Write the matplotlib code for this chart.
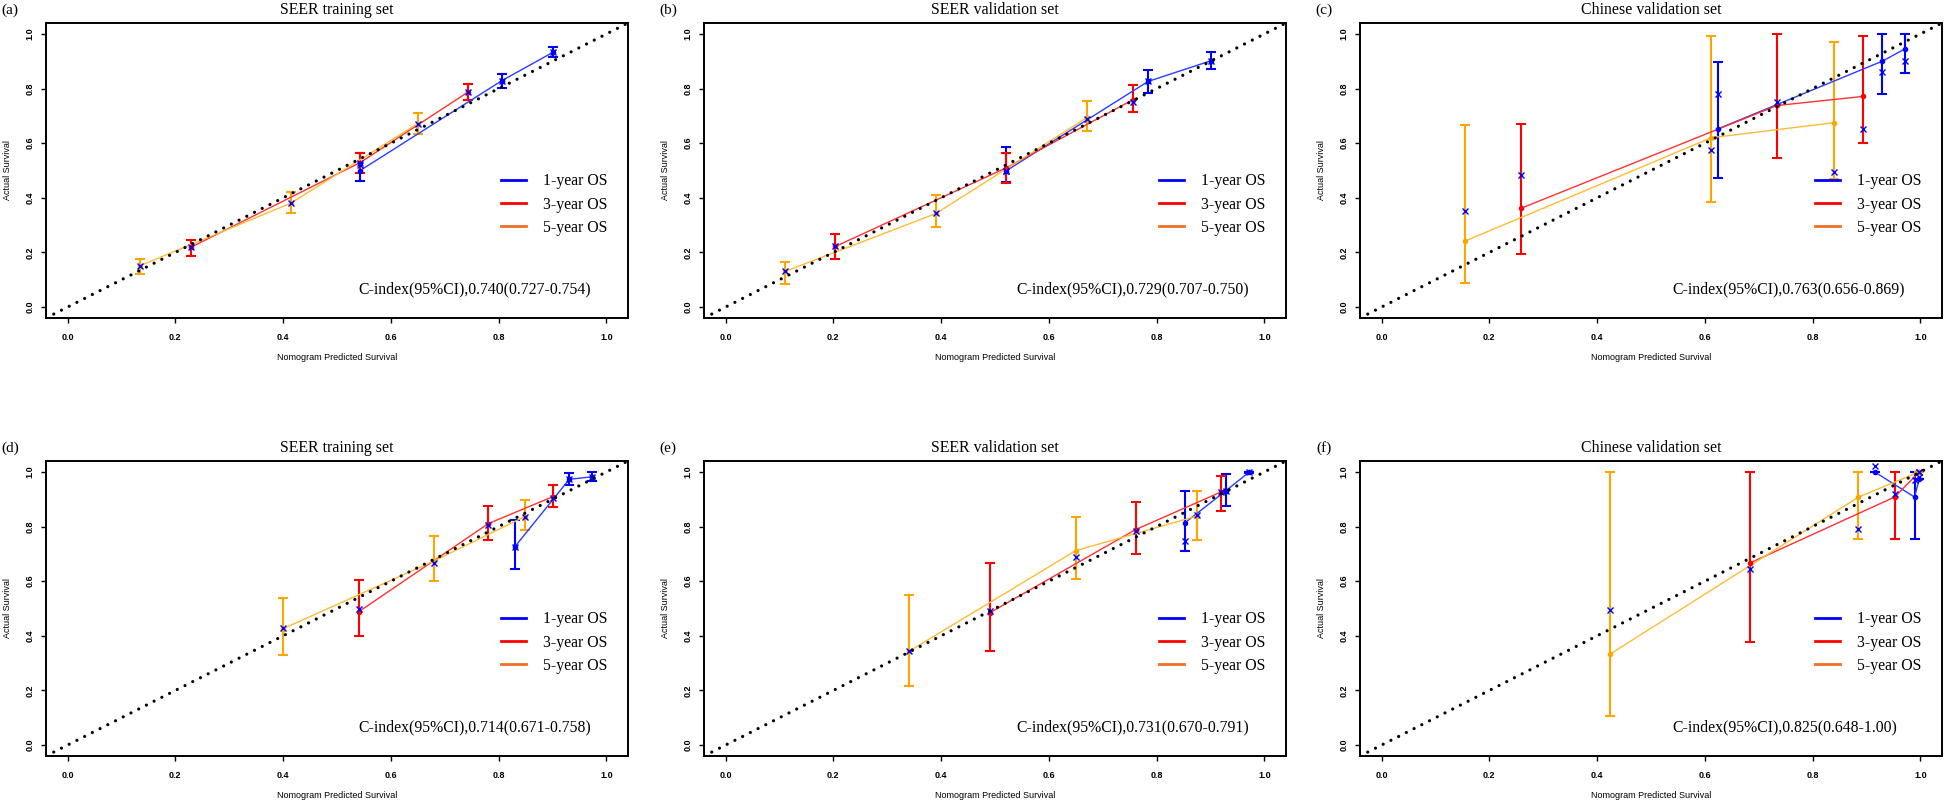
"""Calibration curves of the nomogram, six panels (SEER / Chinese sets)."""

import matplotlib

matplotlib.use("Agg")
import matplotlib.pyplot as plt
from matplotlib.lines import Line2D

SERIES = ["1-year OS", "3-year OS", "5-year OS"]
TAGS = ["(a)", "(b)", "(c)", "(d)", "(e)", "(f)"]
TITLES = ["SEER training set", "SEER validation set", "Chinese validation set"] * 2
CINDEX = [
    "C-index(95%CI),0.740(0.727-0.754)",
    "C-index(95%CI),0.729(0.707-0.750)",
    "C-index(95%CI),0.763(0.656-0.869)",
    "C-index(95%CI),0.714(0.671-0.758)",
    "C-index(95%CI),0.731(0.670-0.791)",
    "C-index(95%CI),0.825(0.648-1.00)",
]

# each list: [1-year, 3-year, 5-year]
pred_a = [[0.543, 0.806, 0.901], [0.229, 0.543, 0.743], [0.135, 0.414, 0.650]]
obs_a = [[0.500, 0.829, 0.933], [0.219, 0.529, 0.787], [0.152, 0.380, 0.672]]
lo_a = [[0.462, 0.801, 0.915], [0.186, 0.492, 0.759], [0.122, 0.344, 0.632]]
hi_a = [[0.563, 0.855, 0.951], [0.247, 0.565, 0.818], [0.176, 0.422, 0.711]]
bc_a = [[0.520, 0.829, 0.933], [0.219, 0.529, 0.787], [0.152, 0.380, 0.672]]

pred_b = [[0.520, 0.784, 0.901], [0.204, 0.521, 0.756], [0.111, 0.391, 0.670]]
obs_b = [[0.498, 0.826, 0.902], [0.222, 0.510, 0.759], [0.131, 0.343, 0.693]]
lo_b = [[0.458, 0.785, 0.870], [0.176, 0.456, 0.714], [0.085, 0.294, 0.643]]
hi_b = [[0.586, 0.869, 0.933], [0.267, 0.565, 0.812], [0.166, 0.409, 0.753]]
bc_b = [[0.500, 0.826, 0.902], [0.222, 0.500, 0.750], [0.131, 0.343, 0.690]]

pred_c = [[0.625, 0.929, 0.972], [0.258, 0.734, 0.893], [0.154, 0.612, 0.839]]
obs_c = [[0.653, 0.900, 0.946], [0.361, 0.738, 0.771], [0.241, 0.620, 0.675]]
lo_c = [[0.474, 0.779, 0.857], [0.195, 0.545, 0.600], [0.088, 0.386, 0.468]]
hi_c = [[0.898, 1.000, 1.000], [0.672, 1.000, 0.994], [0.665, 0.991, 0.972]]
bc_c = [[0.779, 0.860, 0.900], [0.484, 0.751, 0.653], [0.350, 0.575, 0.496]]

pred_d = [[0.830, 0.931, 0.973], [0.541, 0.781, 0.900], [0.400, 0.680, 0.848]]
obs_d = [[0.726, 0.973, 0.982], [0.489, 0.811, 0.909], [0.426, 0.674, 0.836]]
lo_d = [[0.644, 0.951, 0.965], [0.398, 0.750, 0.872], [0.331, 0.602, 0.787]]
hi_d = [[0.824, 0.997, 0.999], [0.605, 0.874, 0.953], [0.540, 0.765, 0.899]]
bc_d = [[0.726, 0.973, 0.982], [0.500, 0.805, 0.905], [0.430, 0.665, 0.836]]

pred_e = [[0.852, 0.929, 0.972], [0.490, 0.761, 0.920], [0.341, 0.650, 0.874]]
obs_e = [[0.813, 0.932, 1.000], [0.484, 0.789, 0.927], [0.344, 0.712, 0.838]]
lo_e = [[0.710, 0.874, 0.997], [0.346, 0.700, 0.856], [0.216, 0.609, 0.750]]
hi_e = [[0.932, 0.993, 1.000], [0.667, 0.890, 0.984], [0.548, 0.834, 0.929]]
bc_e = [[0.746, 0.932, 1.000], [0.490, 0.783, 0.927], [0.344, 0.689, 0.844]]

pred_f = [[0.915, 0.989, 0.998], [0.683, 0.952, 0.998], [0.424, 0.885, 0.998]]
obs_f = [[1.000, 0.908, 0.975], [0.666, 0.908, 1.000], [0.333, 0.908, 1.000]]
lo_f = [[0.998, 0.754, 0.975], [0.377, 0.754, 1.000], [0.106, 0.754, 1.000]]
hi_f = [[1.000, 1.000, 0.975], [1.000, 1.000, 1.000], [1.000, 1.000, 1.000]]
bc_f = [[1.020, 0.970, 0.980], [0.645, 0.920, 1.000], [0.493, 0.792, 1.000]]

PANELS = [
    (pred_a, obs_a, lo_a, hi_a, bc_a),
    (pred_b, obs_b, lo_b, hi_b, bc_b),
    (pred_c, obs_c, lo_c, hi_c, bc_c),
    (pred_d, obs_d, lo_d, hi_d, bc_d),
    (pred_e, obs_e, lo_e, hi_e, bc_e),
    (pred_f, obs_f, lo_f, hi_f, bc_f),
]

BAR_COLORS = ["#0000ff", "#ff0000", "#ffa500"]
LINE_COLORS = ["#2a3cff", "#ff3030", "#ffbb33"]
LEGEND_COLORS = ["#0000ff", "#ff0000", "#f26d25"]

SERIF = ["Liberation Serif", "DejaVu Serif"]
SANS = ["Liberation Sans", "DejaVu Sans"]

W, H = 1946, 811
COL_LEFT = [46, 704, 1360]
ROW_BOTTOM = [318, 756]
AX_W, AX_H = 582, 295


def draw_panel(ax, idx):
    pred, obs, lo, hi, bc = PANELS[idx]
    for k in range(3):
        yerr = [[o - l for o, l in zip(obs[k], lo[k])], [h - o for o, h in zip(obs[k], hi[k])]]
        ax.errorbar(pred[k], obs[k], yerr=yerr, fmt="none", ecolor=BAR_COLORS[k],
                    elinewidth=1.5, capsize=3.3, capthick=1.5, zorder=2)
        ax.plot(pred[k], obs[k], color=LINE_COLORS[k], lw=1.0, zorder=3)
        ax.plot(pred[k], obs[k], "o", color=BAR_COLORS[k], ms=3, zorder=4)
        ax.plot(pred[k], bc[k], "x", color="#0000ff", ms=4, mew=1.0, zorder=5)

    ax.axline((0, 0), (1, 1), color="black", lw=2.3, ls=(0, (0.01, 2.7)),
              dash_capstyle="round", zorder=6)

    ax.set_xlim(-0.04, 1.04)
    ax.set_ylim(-0.04, 1.04)
    ticks = [0.0, 0.2, 0.4, 0.6, 0.8, 1.0]
    ax.set_xticks(ticks)
    ax.set_yticks(ticks)
    ax.set_xticklabels([f"{t:.1f}" for t in ticks], fontfamily=SANS, fontweight="bold", fontsize=6.5)
    ax.set_yticklabels([f"{t:.1f}" for t in ticks], fontfamily=SANS, fontweight="bold", fontsize=6.5,
                       rotation=90, va="center")
    ax.tick_params(axis="x", length=3.6, width=1.0, pad=7.0)
    ax.tick_params(axis="y", length=3.6, width=1.0, pad=4.5)
    for sp in ax.spines.values():
        sp.set_linewidth(1.4)

    ax.set_xlabel("Nomogram Predicted Survival", fontfamily=SANS, fontsize=6.5)
    ax.xaxis.label.set_verticalalignment("center")
    ax.xaxis.set_label_coords(0.5, -40 / AX_H)
    ax.set_ylabel("Actual Survival", fontfamily=SANS, fontsize=6.5)
    ax.yaxis.label.set_verticalalignment("center")
    ax.yaxis.set_label_coords(-38 / AX_W, 0.5)

    ax.set_title(TITLES[idx], fontfamily=SERIF, fontsize=11.4, y=1 + 13 / AX_H, va="center", pad=0)
    ax.text(-36 / AX_W, 1 + 13 / AX_H, TAGS[idx], transform=ax.transAxes, ha="center",
            va="center", fontfamily=SERIF, fontsize=11)
    ax.text(0.537, 0.096, CINDEX[idx], transform=ax.transAxes, ha="left", va="center",
            fontfamily=SERIF, fontsize=11.3)

    handles = [Line2D([], [], color=c, lw=2.0) for c in LEGEND_COLORS]
    ax.legend(handles, SERIES, loc="upper left", bbox_to_anchor=(0.781, 0.49), frameon=False,
              borderpad=0, borderaxespad=0, handlelength=1.6, handletextpad=1.1,
              labelspacing=0.45, prop={"family": SERIF, "size": 11.3})


fig = plt.figure(figsize=(W / 100, H / 100), dpi=100)
for i in range(6):
    r, c = divmod(i, 3)
    rect = [COL_LEFT[c] / W, 1 - ROW_BOTTOM[r] / H, AX_W / W, AX_H / H]
    ax = fig.add_axes(rect)
    draw_panel(ax, i)

fig.savefig("out.png", dpi=100)
